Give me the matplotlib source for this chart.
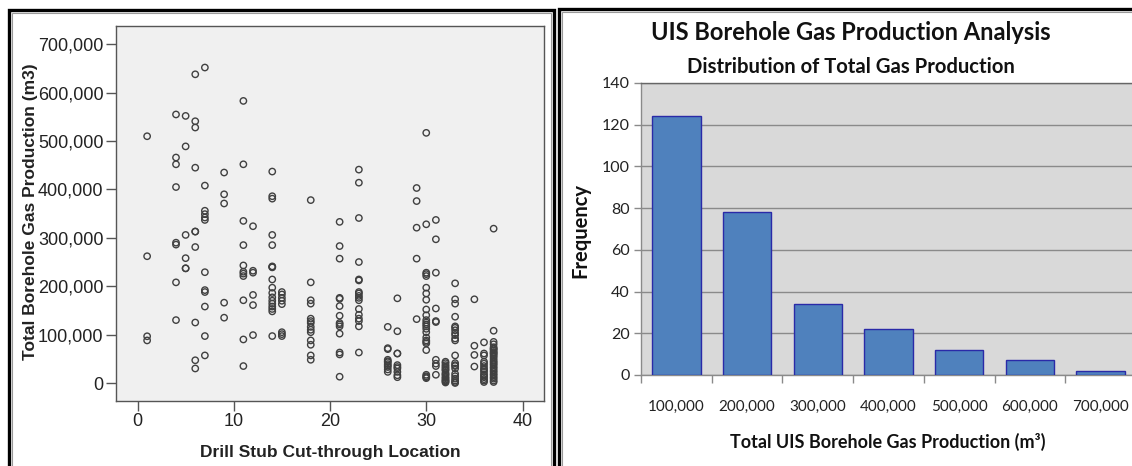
import matplotlib
matplotlib.use("Agg")
import matplotlib.pyplot as plt
from matplotlib.patches import Rectangle
from matplotlib.ticker import FuncFormatter
import numpy as np

# ---------------- data ----------------
# Scatter: drill stub cut-through location -> total borehole gas production (thousand m3)
loc_01 = [510, 262, 96.6, 88]
loc_04 = [555, 466, 452, 405, 290, 286, 208, 130]
loc_05 = [552, 489, 306, 258, 237, 237]
loc_06 = [638, 541, 528, 445, 313, 313, 281, 125, 47, 30]
loc_07 = [652, 408, 356, 349, 342, 337, 229, 192, 188, 158, 97, 57]
loc_09 = [435, 390, 371, 166, 135]
loc_11 = [583, 452, 335, 285, 243, 230, 226, 221, 171, 90, 35]
loc_12 = [324, 232, 228, 182, 161, 99]
loc_14 = [437, 386, 381, 306, 285, 241, 240, 239, 214, 197, 186, 177, 170, 164, 158, 153, 148, 97]
loc_15 = [188, 183, 176, 170, 163, 105, 101, 97]
loc_18 = [378, 208, 171, 164, 133, 128, 124, 116, 110, 105, 88, 79, 57, 48]
loc_21 = [333, 283, 257, 176, 174, 159, 139, 124, 121, 117, 102, 63, 59, 13]
loc_23 = [441, 414, 341, 250, 214, 212, 188, 185, 180, 176, 171, 153, 141, 133, 128, 117, 63]
loc_26 = [116, 72, 70, 48, 45, 43, 39, 36, 33, 28, 23]
loc_27 = [175, 107, 61, 61, 37, 33, 30, 23, 16, 12]
loc_29 = [403, 376, 321, 257, 132]
loc_30 = [517, 328, 228, 225, 221, 197, 185, 172, 152, 140, 130, 125, 121, 117, 112, 105,
          94, 88, 85, 82, 68, 17, 14, 12, 10]
loc_31 = [337, 297, 228, 154, 128, 126, 48, 40, 35, 17]
loc_32 = [44, 41, 37, 34, 31, 28, 26, 21, 18, 16, 12, 10, 7, 5, 3, 1]
loc_33 = [206, 173, 164, 137, 117, 114, 109, 103, 99, 92, 88, 57, 41, 37, 35, 30, 19, 14, 9, 5, 2, 0]
loc_35 = [173, 77, 58, 34]
loc_36 = [84, 61, 57, 44, 40, 35, 30, 27, 23, 18, 15, 12, 8, 5, 2]
loc_37 = [319, 108, 85, 80, 74, 71, 70, 67, 64, 62, 60, 57, 54, 50, 46, 43, 40, 37, 33, 30,
          26, 23, 19, 16, 12, 9, 5, 2]

scatter_groups = {
    1: loc_01, 4: loc_04, 5: loc_05, 6: loc_06, 7: loc_07, 9: loc_09, 11: loc_11,
    12: loc_12, 14: loc_14, 15: loc_15, 18: loc_18, 21: loc_21, 23: loc_23, 26: loc_26,
    27: loc_27, 29: loc_29, 30: loc_30, 31: loc_31, 32: loc_32, 33: loc_33, 35: loc_35,
    36: loc_36, 37: loc_37,
}

# Histogram
hist_bins = ["100,000", "200,000", "300,000", "400,000", "500,000", "600,000", "700,000"]
hist_freq = [124, 78, 34, 22, 12, 7, 2]

# ---------------- figure ----------------
W, H = 1132, 466
fig = plt.figure(figsize=(W / 100, H / 100), dpi=100)
fig.patch.set_facecolor("white")


def fx(px):
    return px / W


def fy(py):
    return 1 - py / H


def ax_rect(l, t, r, b):
    return [fx(l), fy(b), fx(r) - fx(l), fy(t) - fy(b)]


# panel borders
for (l, t, r, b) in [(9, 10, 554, 480), (559, 9, 1150, 480)]:
    fig.add_artist(Rectangle((fx(l), fy(b)), fx(r) - fx(l), fy(t) - fy(b),
                             transform=fig.transFigure, fill=False,
                             edgecolor="black", linewidth=2.4, zorder=10))
    fig.add_artist(Rectangle((fx(l + 3), fy(b)), fx(r - 3) - fx(l + 3), fy(t + 3) - fy(b),
                             transform=fig.transFigure, fill=False,
                             edgecolor="#9a9a9a", linewidth=0.8, zorder=10))

# ---------------- left: scatter ----------------
arial = "Liberation Sans"
ax1 = fig.add_axes(ax_rect(116, 26, 544, 401))
ax1.set_facecolor("#f0f0f0")
xs, ys = [], []
for loc, vals in scatter_groups.items():
    for v in vals:
        xs.append(loc)
        ys.append(v * 1000)
ax1.scatter(xs, ys, s=21, facecolors="none", edgecolors="#404040", linewidths=1.0, zorder=3)

# axis calibration: 0 -> y=383px, 700000 -> y=44.3px ; loc 0 -> x=137.5px, 9.625 px/unit
ppu_y = (383 - 44.3) / 700000
ax1.set_ylim(-(401 - 383) / ppu_y, (383 - 26) / ppu_y)
ax1.set_xlim(-(137.5 - 116) / 9.625, (544 - 137.5) / 9.625)
ax1.set_yticks(np.arange(0, 700001, 100000))
ax1.set_xticks([0, 10, 20, 30, 40])
ax1.yaxis.set_major_formatter(FuncFormatter(lambda v, p: f"{int(v):,}"))
for sp in ax1.spines.values():
    sp.set_color("#555555")
    sp.set_linewidth(1.0)
ax1.tick_params(axis="both", direction="out", length=7, width=1, color="#555555",
                labelsize=13, labelcolor="#222222", pad=2)
for lab in ax1.get_xticklabels() + ax1.get_yticklabels():
    lab.set_fontfamily(arial)
fig.text(fx(330), fy(452), "Drill Stub Cut-through Location", ha="center", va="center",
         fontsize=12.5, fontweight="bold", family=arial, color="#222222")
fig.text(fx(31), fy(212), "Total Borehole Gas Production (m3)", ha="center", va="center",
         rotation=90, fontsize=12.5, fontweight="bold", family=arial, color="#222222")

# ---------------- right: histogram ----------------
cal = "Lato"
cat_w = 70.7
ax2_left = 641
ax2 = fig.add_axes(ax_rect(ax2_left, 83, ax2_left + 8 * cat_w, 375))
ax2.set_facecolor("#d9d9d9")
xpos = np.arange(len(hist_freq))
ax2.bar(xpos, hist_freq, width=0.685, color="#4f81bd", edgecolor="#2a2aa8", linewidth=1.0, zorder=3)
ax2.set_xlim(-0.5, 7.5)
ax2.set_ylim(0, 140)
ax2.set_yticks(np.arange(0, 141, 20))
ax2.yaxis.grid(True, color="#8a8a8a", linewidth=1.0, zorder=0)
ax2.set_axisbelow(True)
ax2.set_xticks(np.arange(-0.5, 7.0, 1.0))
ax2.set_xticklabels([])
ax2.set_xticks(xpos, minor=True)
ax2.set_xticklabels(hist_bins, minor=True)
ax2.tick_params(axis="x", which="major", direction="out", length=6, width=1, color="#8a8a8a")
ax2.tick_params(axis="x", which="minor", length=0, pad=18, labelsize=11, labelcolor="#222222")
ax2.tick_params(axis="y", direction="out", length=5, width=1, color="#8a8a8a",
                labelsize=11.5, labelcolor="#222222", pad=3)
for lab in ax2.get_xticklabels(minor=True) + ax2.get_yticklabels():
    lab.set_fontfamily(cal)
for name, sp in ax2.spines.items():
    sp.set_color("#8a8a8a")
    sp.set_linewidth(1.0)
ax2.spines["top"].set_color("#666666")

fig.text(fx(851), fy(33), "UIS Borehole Gas Production Analysis", ha="center", va="center",
         fontsize=17, fontweight="bold", family=cal, color="#111111")
fig.text(fx(851), fy(67), "Distribution of Total Gas Production", ha="center", va="center",
         fontsize=14.6, fontweight="bold", family=cal, color="#111111")
fig.text(fx(888), fy(442), "Total UIS Borehole Gas Production (m³)", ha="center", va="center",
         fontsize=13, fontweight="bold", family=cal, color="#111111")
fig.text(fx(580), fy(230), "Frequency", ha="center", va="center", rotation=90,
         fontsize=14.5, fontweight="bold", family=cal, color="#111111")

fig.savefig("out.png", dpi=100)
